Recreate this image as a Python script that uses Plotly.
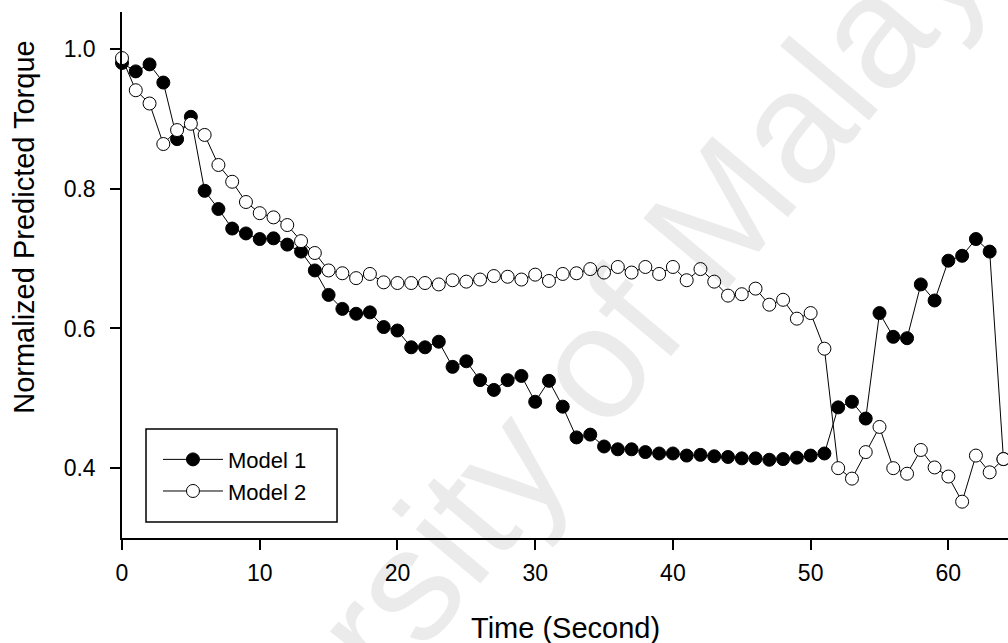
import plotly.graph_objects as go

time_s = list(range(65))
model1 = [0.980, 0.968, 0.978, 0.952, 0.871, 0.903, 0.797, 0.771, 0.743, 0.736,
          0.728, 0.729, 0.720, 0.710, 0.683, 0.648, 0.628, 0.621, 0.623, 0.602,
          0.597, 0.573, 0.573, 0.581, 0.545, 0.553, 0.526, 0.512, 0.526, 0.532,
          0.495, 0.525, 0.488, 0.444, 0.448, 0.431, 0.427, 0.427, 0.423, 0.421,
          0.421, 0.418, 0.419, 0.417, 0.416, 0.414, 0.414, 0.412, 0.413, 0.415,
          0.418, 0.421, 0.487, 0.495, 0.471, 0.622, 0.588, 0.586, 0.663, 0.640,
          0.697, 0.704, 0.728, 0.710, 0.413]
model2 = [0.987, 0.941, 0.922, 0.864, 0.884, 0.893, 0.877, 0.834, 0.810, 0.781,
          0.765, 0.759, 0.748, 0.725, 0.708, 0.683, 0.679, 0.672, 0.678, 0.666,
          0.665, 0.665, 0.665, 0.663, 0.669, 0.667, 0.670, 0.675, 0.674, 0.670,
          0.677, 0.668, 0.678, 0.679, 0.685, 0.680, 0.688, 0.680, 0.688, 0.678,
          0.688, 0.669, 0.685, 0.667, 0.647, 0.649, 0.657, 0.634, 0.641, 0.614,
          0.622, 0.571, 0.400, 0.385, 0.423, 0.459, 0.400, 0.392, 0.426, 0.401,
          0.388, 0.352, 0.418, 0.394, 0.413]
x_ticks = [0, 10, 20, 30, 40, 50, 60]
y_ticks = [0.4, 0.6, 0.8, 1.0]
y_tick_text = ["0.4", "0.6", "0.8", "1.0"]

FONT = "Liberation Sans, Arial, sans-serif"

fig = go.Figure()
fig.add_trace(go.Scatter(
    x=time_s, y=model1, mode="lines+markers", name="Model 1",
    line=dict(color="black", width=1),
    marker=dict(symbol="circle", size=13, color="black", line=dict(color="black", width=1)),
    cliponaxis=False,
))
fig.add_trace(go.Scatter(
    x=time_s, y=model2, mode="lines+markers", name="Model 2",
    line=dict(color="black", width=1),
    marker=dict(symbol="circle", size=13, color="white", line=dict(color="black", width=1)),
    cliponaxis=False,
))

fig.update_layout(
    width=1008, height=643,
    margin=dict(l=122, r=0, t=12, b=105),
    paper_bgcolor="white", plot_bgcolor="white",
    font=dict(family=FONT, color="black", size=23),
    showlegend=True,
    legend=dict(
        x=0.0406, y=0.189, xanchor="left", yanchor="top",
        bgcolor="rgba(0,0,0,0)", borderwidth=0,
        font=dict(family=FONT, size=22, color="black"),
        tracegroupgap=0, itemwidth=60,
    ),
    shapes=[dict(
        type="rect", xref="paper", yref="paper",
        x0=0.0271, x1=0.2427, y0=0.0304, y1=0.2072,
        line=dict(color="black", width=1.5), fillcolor="rgba(0,0,0,0)",
    )],
    annotations=[
        dict(text="University of Malaya", xref="paper", yref="paper",
             x=0.477, y=0.224, showarrow=False, textangle=-50,
             font=dict(family=FONT, size=160, color="rgba(0,0,0,0.08)"),
             xanchor="center", yanchor="middle"),
        dict(text="Normalized Predicted Torque", xref="paper", yref="paper",
             x=-0.111, y=0.591, showarrow=False, textangle=-90,
             font=dict(family=FONT, size=29, color="black"),
             xanchor="center", yanchor="middle"),
        dict(text="Time (Second)", xref="paper", yref="paper",
             x=0.5, y=-0.171, showarrow=False,
             font=dict(family=FONT, size=29, color="black"),
             xanchor="center", yanchor="middle"),
    ],
)

fig.update_xaxes(
    range=[0, 64.33], tickvals=x_ticks, ticks="outside", ticklen=10, tickwidth=1.5,
    tickcolor="black", showline=True, linecolor="black", linewidth=1.5,
    showgrid=False, zeroline=False, mirror=False,
    tickfont=dict(family=FONT, size=23, color="black"), ticklabelstandoff=4,
)
fig.update_yaxes(
    range=[0.3, 1.053], tickvals=y_ticks, ticktext=y_tick_text, ticks="outside",
    ticklen=10, tickwidth=1.5, tickcolor="black", showline=True, linecolor="black",
    linewidth=1.5, showgrid=False, zeroline=False, mirror=False,
    tickfont=dict(family=FONT, size=23, color="black"), ticklabelstandoff=10,
)

fig.write_html("out.html")
